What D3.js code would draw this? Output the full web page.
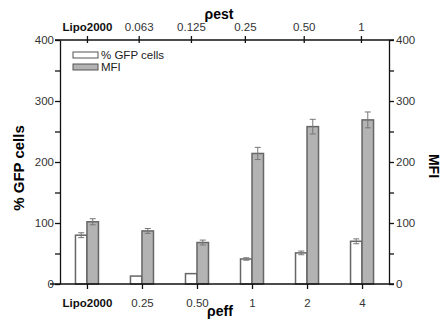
<!DOCTYPE html>
<html>
<head>
<meta charset="utf-8">
<script src="https://cdn.jsdelivr.net/npm/d3@7"></script>
<style>
  body { margin: 0; background: #fff; }
  svg text { font-family: "Liberation Sans", Arial, sans-serif; }
</style>
</head>
<body>
<div id="chart"></div>
<script>
// bottom axis (rho eff) and top axis (rho est) categories
var effLabels = ['Lipo2000', '0.25', '0.50', '1', '2', '4'];
var estLabels = ['Lipo2000', '0.063', '0.125', '0.25', '0.50', '1'];
// top ticks sit slightly off the bottom ones
var estPos = [0, 0.94, 1.89, 2.87, 3.94, 4.98];

var gfp = [80, 13, 17, 41, 51, 70];
var gfpErr = [4, 0, 0, 2, 3, 4];
var mfi = [102, 87, 68, 214, 258, 269];
var mfiErr = [5, 4, 4, 10, 12, 13];

var W = 443, H = 321;
var margin = {top: 40, right: 54, bottom: 37, left: 60};

var svg = d3.select('#chart').append('svg')
	.attr('width', W)
	.attr('height', H);

var x = d3.scaleLinear().domain([-0.49, 5.49]).range([margin.left, W - margin.right]);
var y = d3.scaleLinear().domain([0, 400]).range([H - margin.bottom, margin.top]);
var barW = 11.5;

var g = svg.append('g');

// bars: white to the left of the tick, gray to the right
g.selectAll('rect.gfp').data(gfp).enter().append('rect')
	.attr('class', 'gfp')
	.attr('x', function (d, i) { return x(i) - barW; })
	.attr('y', function (d) { return y(d); })
	.attr('width', barW)
	.attr('height', function (d) { return y(0) - y(d); })
	.attr('fill', '#fff')
	.attr('stroke', '#666')
	.attr('stroke-width', 1.5);

g.selectAll('rect.mfi').data(mfi).enter().append('rect')
	.attr('class', 'mfi')
	.attr('x', function (d, i) { return x(i); })
	.attr('y', function (d) { return y(d); })
	.attr('width', barW)
	.attr('height', function (d) { return y(0) - y(d); })
	.attr('fill', '#b3b3b3')
	.attr('stroke', '#666')
	.attr('stroke-width', 1.5);

// error bars
function errBars(vals, errs, cx) {
	vals.forEach(function (v, i) {
		if (!errs[i]) return;
		var xc = cx(i), y1 = y(v + errs[i]), y0 = y(v - errs[i]);
		var e = g.append('g').attr('stroke', '#777').attr('stroke-width', 1);
		e.append('line').attr('x1', xc).attr('x2', xc).attr('y1', y1).attr('y2', y0);
		e.append('line').attr('x1', xc - 3).attr('x2', xc + 3).attr('y1', y1).attr('y2', y1);
		e.append('line').attr('x1', xc - 3).attr('x2', xc + 3).attr('y1', y0).attr('y2', y0);
	});
}
errBars(gfp, gfpErr, function (i) { return x(i) - barW / 2; });
errBars(mfi, mfiErr, function (i) { return x(i) + barW / 2; });

// axes
var ticks = d3.range(0, 401, 50);
function styleAxis(sel) {
	sel.selectAll('path, line').attr('stroke', '#111').attr('stroke-width', 1.3);
	sel.selectAll('text').attr('fill', '#333').style('font-size', '11.5px');
}

var leftAx = svg.append('g').attr('transform', 'translate(' + margin.left + ',0)')
	.call(d3.axisLeft(y).tickValues(ticks).tickSize(5).tickSizeOuter(0)
		.tickFormat(function (d) { return d % 100 ? '' : d; }));
styleAxis(leftAx);
leftAx.selectAll('text').attr('dx', '2px');

var rightAx = svg.append('g').attr('transform', 'translate(' + (W - margin.right) + ',0)')
	.call(d3.axisRight(y).tickValues(ticks).tickSize(5).tickSizeOuter(0)
		.tickFormat(function (d) { return d % 100 ? '' : d; }));
styleAxis(rightAx);
rightAx.selectAll('text').attr('dx', '-1px');

var bottomAx = svg.append('g').attr('transform', 'translate(0,' + y(0) + ')')
	.call(d3.axisBottom(x).tickValues(d3.range(6)).tickSize(5).tickSizeOuter(0)
		.tickFormat(function (d) { return effLabels[d]; }));
styleAxis(bottomAx);
bottomAx.select('.domain').attr('d', 'M' + (margin.left - 10) + ',0H' + (W - margin.right + 5));
bottomAx.selectAll('text').attr('dy', '1.3em')
	.style('font-weight', function (d) { return d === 0 ? 'bold' : null; })
	.attr('fill', function (d) { return d === 0 ? '#111' : '#333'; });

var topAx = svg.append('g').attr('transform', 'translate(0,' + y(400) + ')')
	.call(d3.axisTop(x).tickValues(estPos).tickSize(4).tickSizeOuter(0)
		.tickFormat(function (d, i) { return estLabels[i]; }));
styleAxis(topAx);
topAx.select('.domain').attr('d', 'M' + (margin.left - 5) + ',0H' + (W - margin.right + 5));
topAx.selectAll('.tick line').attr('y1', 3).attr('y2', -4);
topAx.selectAll('text').attr('dy', '-0.2em')
	.style('font-weight', function (d, i) { return i === 0 ? 'bold' : null; })
	.attr('fill', function (d, i) { return i === 0 ? '#111' : '#333'; });

// axis titles
svg.append('text').attr('x', 219).attr('y', 19).attr('text-anchor', 'middle')
	.style('font-size', '14px').style('font-weight', 'bold').text('ρest');
svg.append('text').attr('x', 220).attr('y', 316).attr('text-anchor', 'middle')
	.style('font-size', '14px').style('font-weight', 'bold').text('ρeff');
svg.append('text').attr('transform', 'translate(24,168) rotate(-90)').attr('text-anchor', 'middle')
	.style('font-size', '15px').style('font-weight', 'bold').text('% GFP cells');
svg.append('text').attr('transform', 'translate(429,166) rotate(90)').attr('text-anchor', 'middle')
	.style('font-size', '14px').style('font-weight', 'bold').text('MFI');

// legend
var legend = [{name: '% GFP cells', fill: '#fff'}, {name: 'MFI', fill: '#b3b3b3'}];
var lg = svg.selectAll('g.legend').data(legend).enter().append('g')
	.attr('transform', function (d, i) { return 'translate(73,' + (52 + i * 12) + ')'; });
lg.append('rect').attr('width', 25).attr('height', 6)
	.attr('fill', function (d) { return d.fill; })
	.attr('stroke', '#555').attr('stroke-width', 1);
lg.append('text').attr('x', 28).attr('y', 7)
	.style('font-size', '11.5px').attr('fill', '#222').text(function (d) { return d.name; });
</script>
</body>
</html>
